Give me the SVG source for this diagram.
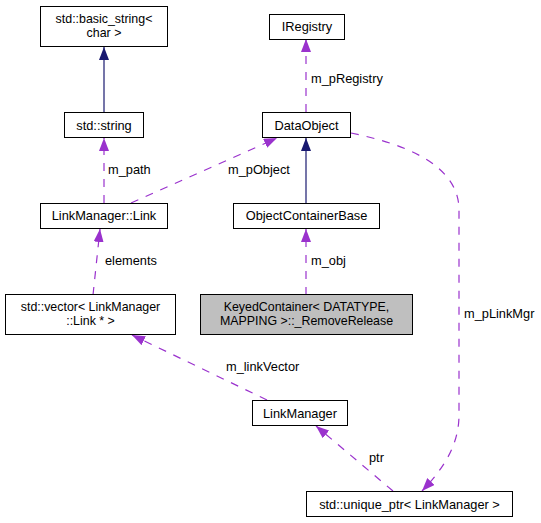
<svg xmlns="http://www.w3.org/2000/svg" width="541" height="523" viewBox="0 0 541 523">
<defs>
<style>
.node rect{fill:#ffffff;stroke:#000000;stroke-width:1}
.node rect.hl{fill:#bfbfbf}
text{font-family:"Liberation Sans",Arial,sans-serif;font-size:12.8px;fill:#000000}
.node text{text-anchor:middle}
.node text.ml{font-size:12.4px}
.use{fill:none;stroke:#9a32cd;stroke-width:1.2;stroke-dasharray:8,8;marker-end:url(#ap)}
.inh{fill:none;stroke:#191970;stroke-width:1.2;marker-end:url(#an)}
</style>
<marker id="ap" viewBox="0 0 13 10" refX="13" refY="5" markerWidth="13" markerHeight="10" markerUnits="userSpaceOnUse" orient="auto"><path d="M0,0 L13,5 L0,10 z" fill="#9a32cd"/></marker>
<marker id="an" viewBox="0 0 13 10" refX="13" refY="5" markerWidth="13" markerHeight="10" markerUnits="userSpaceOnUse" orient="auto"><path d="M0,0 L13,5 L0,10 z" fill="#191970"/></marker>
</defs>
<rect x="0" y="0" width="541" height="523" fill="#ffffff"/>
<g id="connectors">
<path class="inh" d="M104,112 L104,47"/>
<path class="use" d="M104,203 L104,138"/>
<path class="use" d="M131,203 L277,138"/>
<path class="use" d="M306,112 L306,39"/>
<path class="inh" d="M306,203 L306,138"/>
<path class="use" d="M306,295 L306,229"/>
<path class="use" d="M93,295 L100,229"/>
<path class="use" d="M267,400 L132,335"/>
<path class="use" d="M393,491 L316,426"/>
<path class="use" d="M351,133 C400,143 459,163 459,210 L459,415 C459,448 440,472 422,491"/>
<text x="108" y="174">m_path</text>
<text x="228" y="174">m_pObject</text>
<text x="311" y="83">m_pRegistry</text>
<text x="105" y="265">elements</text>
<text x="311" y="265">m_obj</text>
<text x="464" y="318">m_pLinkMgr</text>
<text x="226" y="371">m_linkVector</text>
<text x="369" y="462">ptr</text>
</g>
<g id="basic_string" class="node"><rect x="40.5" y="6.5" width="127" height="40"/><text class="ml" x="104" y="22.5">std::basic_string&lt;</text><text class="ml" x="104" y="37">char &gt;</text></g>
<g id="string" class="node"><rect x="64.5" y="112.5" width="79" height="25"/><text x="104" y="129.5">std::string</text></g>
<g id="link" class="node"><rect x="40.5" y="203.5" width="127" height="25"/><text x="104" y="220">LinkManager::Link</text></g>
<g id="iregistry" class="node"><rect x="269.5" y="14.5" width="75" height="25"/><text x="307" y="31">IRegistry</text></g>
<g id="dataobject" class="node"><rect x="262.5" y="112.5" width="88" height="25"/><text x="306.5" y="129.5">DataObject</text></g>
<g id="objectcontainerbase" class="node"><rect x="233.5" y="203.5" width="146" height="25"/><text x="306.5" y="220">ObjectContainerBase</text></g>
<g id="vector" class="node"><rect x="5.5" y="294.5" width="170" height="40"/><text class="ml" x="90.5" y="310.5">std::vector&lt; LinkManager</text><text class="ml" x="90.5" y="325">::Link * &gt;</text></g>
<g id="keyedcontainer" class="node"><rect class="hl" x="200.5" y="294.5" width="212" height="40"/><text class="ml" x="306.5" y="310.5">KeyedContainer&lt; DATATYPE,</text><text class="ml" x="306.5" y="325"> MAPPING &gt;::_RemoveRelease</text></g>
<g id="linkmanager" class="node"><rect x="252.5" y="400.5" width="95" height="25"/><text x="300" y="417.5">LinkManager</text></g>
<g id="unique_ptr" class="node"><rect x="306.5" y="491.5" width="206" height="25"/><text x="409.5" y="508.5">std::unique_ptr&lt; LinkManager &gt;</text></g>
</svg>
